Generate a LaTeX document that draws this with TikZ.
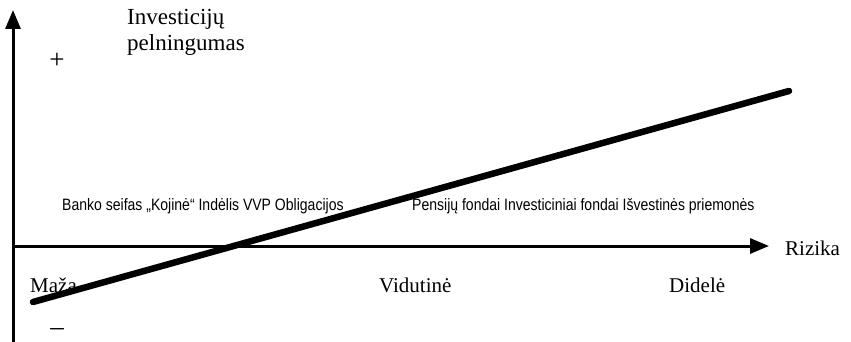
\documentclass[tikz,border=0pt]{standalone}
\usepackage{fontspec}
\setmainfont{Liberation Serif}
\newfontfamily\narrowsans[FakeStretch=0.85]{Liberation Sans}
\usepackage{tikz}
\usetikzlibrary{positioning,arrows.meta}

\begin{document}
\begin{tikzpicture}[
			x=1pt, y=-1pt,
			lbl/.style={
				inner sep=0,
				font=\fontsize{21}{25}\selectfont
			},
			sign/.style={
				inner sep=0,
				font=\fontsize{27}{30}\selectfont
			},
			group/.style={
				inner sep=0,
				font=\narrowsans\fontsize{16.5}{20}\selectfont
			},
			axis/.style={-{Triangle[length=19pt,width=15pt]},line width=3pt},
			riskline/.style={line width=6.5pt,line cap=round}
			]
			
			\useasboundingbox (0,0) rectangle (851,342);
			
			\coordinate (ybot) at (13,342);
			\coordinate (ytop) at (13,10);
			\coordinate (O) at (13,246);
			\coordinate (xend) at (769,246);
			\coordinate (lo) at (33,302);
			\coordinate (hi) at (789,91);
			
			\node[lbl,anchor=north west,align=left,font=\fontsize{23}{26}\selectfont] (title) at (127,9) {Investicijų\\pelningumas};
			\node[sign] (plus) at (57,61) {+};
			\node[sign] (minus) at (57,332) {–};
			
			\node[group,anchor=base west] (low) at (62,210) {Banko seifas „Kojinė“ Indėlis VVP Obligacijos};
			\node[group,anchor=base west] (high) at (412,210) {Pensijų fondai Investiciniai fondai Išvestinės priemonės};
			
			\node[lbl,anchor=base west] (maza) at (30,292) {Maža};
			\node[lbl,anchor=base west] (vid) at (379,292) {Vidutinė};
			\node[lbl,anchor=base west] (did) at (669,292) {Didelė};
			\node[lbl,anchor=base west] (rizika) at (785,255) {Rizika};
			
			\draw[axis] (ybot) -- (ytop);
			\draw[axis] (O) -- (xend);
			\draw[riskline] (lo) -- (hi);
			
		\end{tikzpicture}
\end{document}
